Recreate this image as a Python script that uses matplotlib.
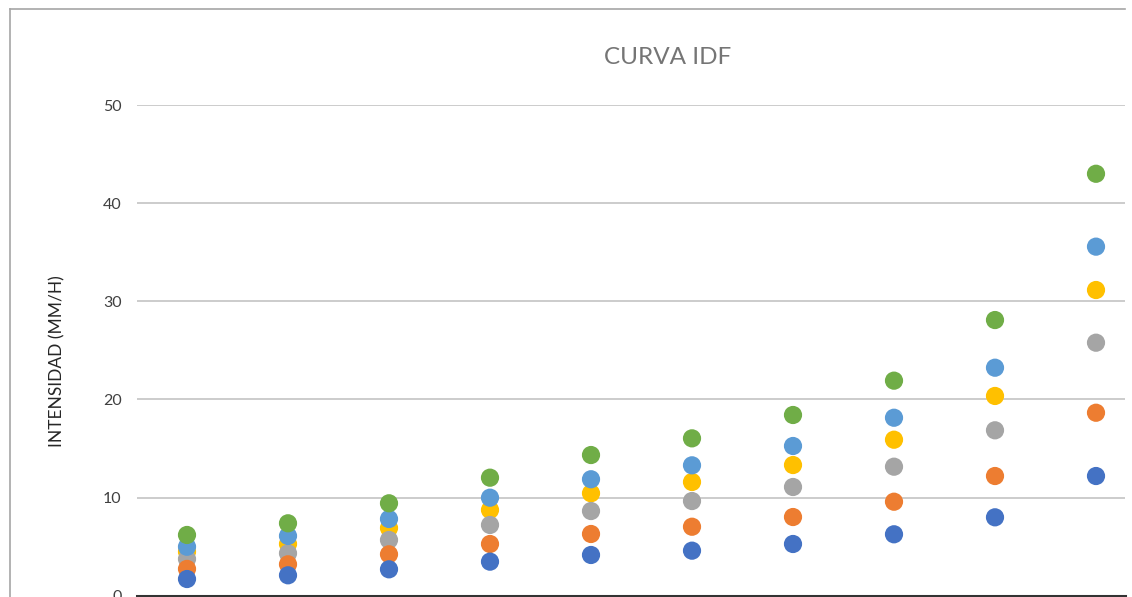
import matplotlib.pyplot as plt
from matplotlib.lines import Line2D

plt.rcParams['font.family'] = ['Lato', 'DejaVu Sans']

# duraciones (posicion en el eje x, sin etiquetas visibles)
x_pos = [1, 2, 3, 4, 5, 6, 7, 8, 9, 10]

# intensidades por periodo de retorno (mm/h)
serie_azul = [1.69, 2.07, 2.68, 3.46, 4.14, 4.58, 5.26, 6.25, 7.98, 12.19]
serie_naranja = [2.72, 3.19, 4.21, 5.26, 6.28, 7.02, 8.01, 9.57, 12.19, 18.64]
serie_gris = [3.73, 4.31, 5.67, 7.20, 8.62, 9.64, 11.07, 13.14, 16.85, 25.78]
serie_amarilla = [4.47, 5.26, 6.89, 8.73, 10.43, 11.58, 13.31, 15.89, 20.35, 31.15]
serie_celeste = [4.98, 6.08, 7.81, 9.98, 11.86, 13.28, 15.25, 18.13, 23.23, 35.57]
serie_verde = [6.18, 7.37, 9.41, 12.02, 14.33, 16.03, 18.41, 21.91, 28.09, 43.00]

y_ticks = [0, 10, 20, 30, 40, 50]

W, H = 1132, 597
fig = plt.figure(figsize=(W / 100, H / 100), dpi=100)

# borde del area del grafico (solo izquierda y arriba visibles)
fig.add_artist(Line2D([10 / W, 10 / W], [0, 1 - 9 / H], color='#a6a6a6', lw=1.2))
fig.add_artist(Line2D([10 / W, 1125 / W], [1 - 9 / H, 1 - 9 / H], color='#a6a6a6', lw=1.2))

ax = fig.add_axes([137 / W, (H - 595.6) / H, 988 / W, 490.5 / H])

series = [
    (serie_amarilla, '#FFC000', 1),
    (serie_gris, '#A5A5A5', 2),
    (serie_naranja, '#ED7D31', 3),
    (serie_azul, '#4472C4', 4),
    (serie_celeste, '#5B9BD5', 5),
    (serie_verde, '#70AD47', 6),
]
for vals, col, z in series:
    ax.scatter(x_pos, vals, s=172, color=col, edgecolors='none', zorder=z + 2)

ax.set_xlim(1 - 50 / 101, 10 + 29 / 101)
ax.set_ylim(0, 50)
ax.set_yticks(y_ticks)
ax.set_xticks([])
ax.yaxis.grid(True, color='#cccccc', lw=1.4)
ax.set_axisbelow(True)
for s in ['top', 'right', 'left']:
    ax.spines[s].set_visible(False)
ax.spines['bottom'].set_color('#333333')
ax.spines['bottom'].set_linewidth(2.2)
ax.spines['bottom'].set_zorder(20)
ax.tick_params(axis='y', length=0, pad=11, labelsize=11.5, labelcolor='#404040')

fig.text(57 / W, 1 - 361 / H, 'INTENSIDAD (MM/H)', rotation=90, ha='center', va='center',
         fontsize=12.5, color='#262626')
fig.text(668 / W, 1 - 58 / H, 'CURVA IDF', ha='center', va='center', fontsize=17.5,
         color='#757575')

fig.savefig('out.png', dpi=100)
